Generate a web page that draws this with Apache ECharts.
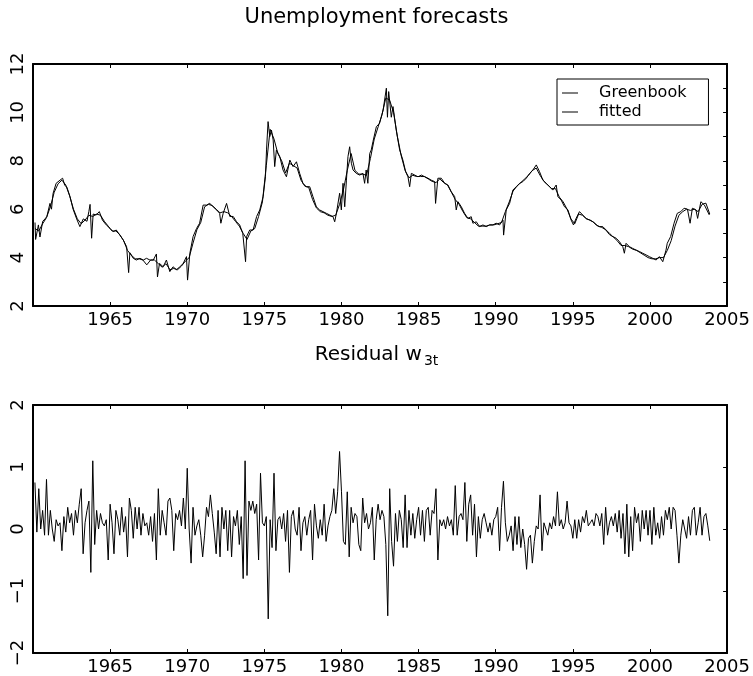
<!DOCTYPE html>
<html><head><meta charset="utf-8">
<script src="https://cdn.jsdelivr.net/npm/echarts@6/dist/echarts.min.js"></script>
<style>html,body{margin:0;padding:0;background:#fff}#c{width:753px;height:676px}</style>
</head><body><div id="c"></div>
<script>
// ---- data ----
const xMin = 1960, xMax = 2005, xStep = 5;
const rateMin = 2, rateMax = 12;
const resMin = -2, resMax = 2;

// Greenbook unemployment forecast (year, percent)
const gbYears = [1960.13,1960.17,1960.35,1960.45,1960.63,1960.78,1960.9,1961.1,1961.2,1961.3,1961.5,1961.75,1961.92,1962.05,1962.2,1962.4,1962.6,1962.83,1963.04,1963.26,1963.5,1963.62,1963.7,1963.8,1963.9,1964.1,1964.3,1964.5,1964.75,1965.0,1965.2,1965.4,1965.63,1965.85,1966.07,1966.2,1966.28,1966.5,1966.7,1966.93,1967.15,1967.36,1967.58,1967.8,1968.0,1968.07,1968.2,1968.44,1968.65,1968.87,1969.08,1969.3,1969.52,1969.74,1969.95,1970.02,1970.17,1970.38,1970.6,1970.8,1971.03,1971.25,1971.46,1971.68,1971.9,1972.1,1972.18,1972.33,1972.55,1972.76,1972.98,1973.2,1973.4,1973.6,1973.78,1973.85,1974.05,1974.27,1974.5,1974.7,1974.92,1975.07,1975.14,1975.24,1975.35,1975.46,1975.57,1975.67,1975.78,1976.0,1976.21,1976.43,1976.65,1976.86,1977.08,1977.29,1977.5,1977.72,1977.94,1978.15,1978.37,1978.58,1978.8,1979.02,1979.24,1979.45,1979.56,1979.67,1979.88,1979.99,1980.1,1980.21,1980.32,1980.42,1980.53,1980.64,1980.75,1980.96,1981.18,1981.39,1981.5,1981.6,1981.71,1981.83,1981.93,1982.04,1982.26,1982.47,1982.7,1982.91,1982.98,1983.06,1983.23,1983.34,1983.55,1983.77,1983.98,1984.16,1984.31,1984.42,1984.53,1984.75,1984.96,1985.18,1985.4,1985.61,1985.82,1986.04,1986.1,1986.25,1986.47,1986.69,1986.9,1987.12,1987.34,1987.44,1987.55,1987.77,1987.98,1988.2,1988.41,1988.52,1988.74,1988.95,1989.17,1989.38,1989.6,1989.81,1990.03,1990.25,1990.47,1990.51,1990.68,1990.9,1991.11,1991.33,1991.55,1991.76,1991.98,1992.2,1992.41,1992.63,1992.84,1993.06,1993.27,1993.49,1993.7,1993.92,1994.03,1994.24,1994.46,1994.68,1994.89,1995.04,1995.21,1995.43,1995.64,1995.86,1996.08,1996.3,1996.51,1996.73,1996.94,1997.16,1997.38,1997.59,1997.81,1998.02,1998.24,1998.34,1998.45,1998.67,1998.88,1999.1,1999.32,1999.53,1999.75,1999.96,2000.18,2000.4,2000.61,2000.83,2001.04,2001.12,2001.34,2001.56,2001.77,2002.0,2002.21,2002.43,2002.6,2002.75,2002.98,2003.09,2003.3,2003.42,2003.53,2003.85];
const gbRates = [5.45,4.75,5.35,4.85,5.5,5.6,5.7,6.24,6.0,6.65,7.07,7.2,7.28,7.0,6.9,6.52,6.0,5.6,5.28,5.6,5.5,5.9,6.2,4.8,5.8,5.76,5.9,5.55,5.35,5.2,5.07,5.14,4.93,4.73,4.45,3.38,4.2,3.97,3.9,3.97,3.9,3.97,3.9,3.9,4.15,3.2,3.76,3.62,3.9,3.42,3.62,3.5,3.62,3.76,4.04,3.07,4.18,4.87,5.2,5.42,6.17,6.17,6.24,6.1,5.97,5.83,5.42,5.83,6.24,5.7,5.7,5.48,5.35,5.0,3.83,4.87,5.14,5.14,5.7,5.97,6.52,7.34,8.45,9.62,9.0,9.27,8.86,7.76,8.45,8.17,7.62,7.34,8.03,7.76,7.96,7.48,7.07,6.93,6.93,6.52,6.1,5.97,5.9,5.83,5.76,5.69,5.48,5.83,6.66,5.97,7.07,6.1,7.2,8.17,8.58,7.9,7.62,7.48,7.41,7.48,7.07,7.62,7.07,8.3,8.45,8.79,9.41,9.55,10.1,11.0,9.8,10.86,9.8,10.24,9.27,8.45,8.03,7.55,7.34,6.93,7.48,7.41,7.34,7.41,7.34,7.28,7.2,7.14,6.24,7.28,7.28,7.07,7.0,6.72,6.52,5.97,6.31,6.1,5.83,5.62,5.69,5.42,5.48,5.28,5.35,5.28,5.35,5.35,5.42,5.35,5.55,4.93,5.97,6.24,6.79,6.93,7.07,7.14,7.28,7.48,7.62,7.83,7.55,7.2,7.07,6.93,6.79,7.0,6.52,6.38,6.1,5.97,5.55,5.35,5.62,5.9,5.76,5.62,5.55,5.48,5.35,5.28,5.28,5.14,5.0,4.87,4.8,4.66,4.45,4.18,4.59,4.45,4.38,4.31,4.25,4.18,4.11,4.04,3.97,3.9,4.04,3.83,4.31,4.59,4.87,5.42,5.83,5.9,6.04,6.0,5.42,6.04,5.97,5.62,6.31,6.35,6.17,5.76];

// fitted values, quarterly from 1960.125
const fitStart = 1960.125, fitStep = 0.25;
const fitted = [
 5.2,5.1,5.4,5.65, 6.1,6.7,7.05,7.2, 7.0,6.55,6.0,5.6, 5.4,5.55,5.75,5.7,
 5.8,5.75,5.5,5.3, 5.1,5.1,4.95,4.7, 4.3,4.1,3.95,3.95, 3.9,3.7,3.9,3.9,
 3.75,3.6,3.75,3.5, 3.55,3.5,3.65,3.85, 4.0,4.6,5.15,5.45, 6.1,6.2,6.15,6.0,
 5.85,5.9,5.85,5.7, 5.5,5.3,5.0,4.75, 5.1,5.2,5.7,6.3, 7.8,9.3,8.9,8.3,
 8.0,7.5,7.9,7.8, 7.7,7.2,6.95,6.9, 6.4,6.05,5.9,5.85, 5.75,5.7,5.75,6.2,
 6.8,7.6,8.3,7.6, 7.45,7.45,7.4,8.1, 8.9,9.4,9.9,10.6, 10.5,10.0,9.0,8.2,
 7.6,7.3,7.4,7.35, 7.35,7.35,7.25,7.15, 7.1,7.25,7.1,7.0, 6.7,6.4,6.2,5.9,
 5.65,5.6,5.45,5.3, 5.3,5.3,5.35,5.35, 5.4,5.45,5.9,6.3, 6.75,6.95,7.1,7.25,
 7.4,7.6,7.7,7.4, 7.15,7.0,6.85,6.85, 6.5,6.3,6.0,5.6, 5.4,5.8,5.75,5.6,
 5.55,5.45,5.3,5.25, 5.15,4.95,4.85,4.7, 4.5,4.5,4.45,4.35, 4.3,4.2,4.1,4.0,
 3.95,3.95,4.0,4.0, 4.3,4.7,5.3,5.75, 5.9,6.0,5.95,6.0, 5.9,6.2,6.25,5.8];

// residual w3t, eight readings per year from 1960.125
const resStart = 1960.125, resStep = 0.125;
const residual = [
 0.75,-0.05,0.65,0.0,0.3,-0.1,0.8,
 -0.1,0.3,0.0,-0.2,0.15,0.05,0.1,-0.35,
 0.2,-0.05,0.35,0.1,0.25,-0.1,0.3,0.1,
 0.4,0.65,-0.4,0.1,0.3,0.45,-0.7,1.1,
 -0.25,0.3,0.0,0.25,0.1,0.05,0.15,-0.5,
 0.4,0.1,-0.4,0.3,0.15,-0.1,0.35,-0.05,
 0.2,-0.45,0.5,0.3,-0.15,0.35,0.0,0.35,
 -0.1,0.25,0.05,0.1,-0.1,0.2,-0.2,0.25,
 -0.5,0.65,-0.1,0.3,0.1,-0.1,0.45,0.5,
 0.3,-0.35,0.25,0.15,0.3,0.05,0.5,0.0,
 0.98,0.0,-0.55,0.35,-0.1,0.05,0.15,-0.1,
 -0.45,-0.1,0.35,0.2,0.55,0.25,-0.05,-0.4,
 0.3,-0.45,0.35,0.0,0.3,-0.35,0.3,-0.45,
 0.2,0.05,0.3,-0.25,0.2,-0.8,1.1,-0.75,
 0.45,0.3,0.45,0.25,0.4,-0.5,0.9,0.1,
 0.05,0.2,-1.45,0.15,-0.3,0.9,-0.35,0.15,
 0.2,0.0,0.25,-0.2,0.3,-0.7,0.2,0.3,
 0.0,-0.1,0.35,-0.35,0.1,0.2,-0.1,0.15,
 0.3,-0.5,0.4,0.05,-0.15,0.15,-0.1,0.4,
 -0.2,0.05,0.2,0.3,0.65,0.25,0.6,1.25,
 0.6,-0.2,-0.25,0.6,-0.45,0.35,0.1,0.25,
 0.2,-0.25,-0.35,0.5,0.1,0.25,0.0,0.1,
 0.35,-0.5,0.15,0.4,0.15,0.3,0.2,-0.25,
 -1.4,0.65,-0.2,-0.6,0.25,-0.2,0.3,0.15,
 -0.3,0.55,-0.3,0.3,-0.1,0.25,-0.15,0.15,
 0.35,-0.1,0.3,-0.2,0.3,0.35,-0.1,0.3,
 0.25,0.65,-0.5,0.15,0.05,0.15,0.0,0.2,
 0.05,0.15,-0.1,0.7,-0.1,0.2,0.25,0.15,
 0.75,-0.2,0.4,0.55,-0.1,0.4,-0.45,0.2,
 -0.15,0.15,0.25,0.1,-0.05,0.1,-0.1,0.15,
 0.2,0.35,-0.35,0.35,0.77,0.1,-0.2,-0.1,
 0.05,-0.35,0.2,-0.25,0.2,-0.3,0.0,-0.25,
 -0.65,-0.15,-0.1,-0.55,-0.2,0.05,0.0,0.55,
 -0.35,0.1,0.1,-0.1,0.1,0.0,0.2,0.05,
 0.6,0.05,0.15,0.0,0.1,0.45,0.1,0.05,
 -0.15,0.15,-0.15,0.15,-0.05,0.2,0.1,0.3,
 0.05,0.1,0.15,0.05,0.25,0.2,0.05,0.25,
 -0.25,0.35,-0.1,0.1,0.2,0.05,0.25,-0.05,
 0.3,-0.15,0.25,-0.4,0.4,-0.45,0.2,-0.35,
 0.35,0.1,0.25,-0.2,0.3,0.0,0.3,-0.1,
 0.3,-0.25,0.35,-0.1,0.1,-0.15,0.2,-0.1,
 0.3,0.15,0.35,0.0,0.35,0.3,-0.1,-0.55,
 -0.1,0.15,0.0,-0.15,0.2,-0.1,0.3,0.35,
 -0.1,0.1,0.35,-0.1,0.2,0.25,0.05,-0.19];

// ---- chart ----
const FONT = 'DejaVu Sans';
const TXT = '#000';
const gbData = gbYears.map((y, i) => [y, gbRates[i]]);
const fitData = fitted.map((v, i) => [fitStart + i * fitStep, v]);
const resData = residual.map((v, i) => [resStart + i * resStep, v]);

const line = { color: '#000', width: 2 };
function xAx(grid, pos, labels) {
  return {
    type: 'value', gridIndex: grid, position: pos, min: xMin, max: xMax, interval: xStep,
    axisLine: { show: true, onZero: false, lineStyle: line },
    axisTick: { show: true, inside: true, length: 4, lineStyle: { color: '#000', width: 1 } },
    axisLabel: { show: labels, showMinLabel: false, showMaxLabel: true, margin: 5,
      formatter: v => String(v),
      color: TXT, fontFamily: FONT, fontSize: 18, fontWeight: 'normal' },
    splitLine: { show: false }
  };
}
function yAx(grid, pos, min, max, labels, fmt) {
  return {
    type: 'value', gridIndex: grid, position: pos, min: min, max: max, interval: 1,
    axisLine: { show: true, onZero: false, lineStyle: line },
    axisTick: { show: pos === 'right', inside: true, length: 4, lineStyle: { color: '#000', width: 1 } },
    axisLabel: { show: labels, rotate: 90, margin: 6, formatter: fmt,
      color: TXT, fontFamily: FONT, fontSize: 18, fontWeight: 'normal' },
    splitLine: { show: false }
  };
}
const lineSeries = (name, data, xi, yi) => ({
  name, type: 'line', data, xAxisIndex: xi, yAxisIndex: yi,
  symbol: 'none', showSymbol: false, smooth: false,
  lineStyle: { color: '#000', width: 1 }, itemStyle: { color: '#000' },
  emphasis: { disabled: true }, z: 3
});

const chart = echarts.init(document.getElementById('c'), null, { renderer: 'canvas' });
chart.setOption({
  animation: false,
  backgroundColor: '#fff',
  title: [
    { text: 'Unemployment forecasts', left: 'center', top: 6, padding: 0,
      textStyle: { fontFamily: FONT, fontSize: 21, fontWeight: 'normal', color: TXT, lineHeight: 24 } },
    { text: 'Residual w{sub|3t}', left: 'center', top: 342, padding: 0,
      textStyle: { fontFamily: FONT, fontSize: 20, fontWeight: 'normal', color: TXT, lineHeight: 26,
        rich: { sub: { fontFamily: FONT, fontSize: 14, color: TXT,
          verticalAlign: 'bottom', lineHeight: 14, padding: [0, 0, 0, 2] } } } }
  ],
  legend: {
    data: [{ name: 'Greenbook', icon: 'rect' }, { name: 'fitted', icon: 'rect' }],
    orient: 'vertical', left: 557, top: 79,
    padding: [6, 22, 5, 5], itemGap: 3, itemWidth: 16, itemHeight: 1,
    itemStyle: { color: '#000', borderWidth: 0 },
    borderColor: '#000', borderWidth: 1, backgroundColor: '#fff',
    selectedMode: false,
    textStyle: { fontFamily: FONT, fontSize: 16, color: TXT, lineHeight: 16,
      padding: [0, 0, 0, 16] }
  },
  grid: [
    { left: 33, top: 64, width: 696, height: 242 },
    { left: 33, top: 405, width: 696, height: 248 }
  ],
  xAxis: [xAx(0, 'bottom', true), xAx(0, 'top', false), xAx(1, 'bottom', true), xAx(1, 'top', false)],
  yAxis: [
    yAx(0, 'left', rateMin, rateMax, true, v => (v % 2 === 0 ? String(v) : '')),
    yAx(0, 'right', rateMin, rateMax, false),
    yAx(1, 'left', resMin, resMax, true, v => (v < 0 ? '\u2212' + Math.abs(v) : String(v))),
    yAx(1, 'right', resMin, resMax, false)
  ],
  series: [
    lineSeries('Greenbook', gbData, 0, 0),
    lineSeries('fitted', fitData, 0, 0),
    lineSeries('Residual', resData, 2, 2)
  ]
});
</script>
</body></html>
